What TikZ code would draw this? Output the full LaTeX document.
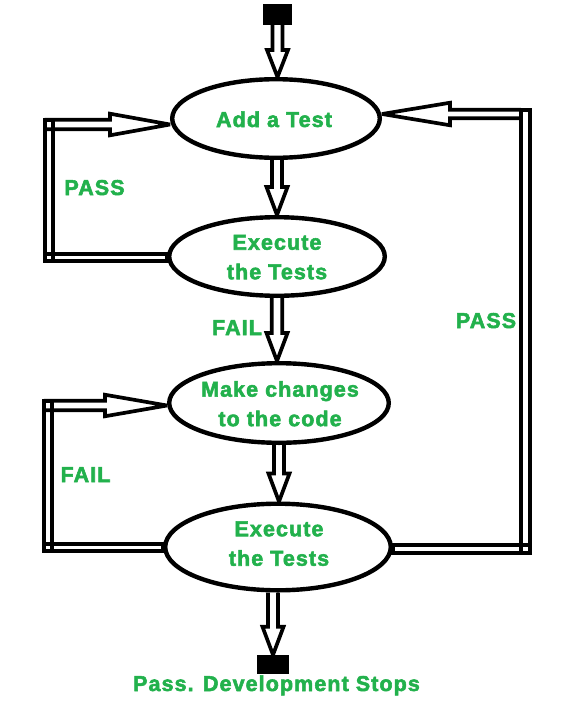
\documentclass[tikz,border=0pt]{standalone}
\usepackage{fontspec}
\setmainfont{Liberation Sans}[LetterSpace=5, BoldFeatures={FakeBold=2.5}]
\usetikzlibrary{shapes.geometric,calc}
\definecolor{pgreen}{HTML}{22B14C}
\tikzset{
  ell/.style={ellipse, draw, line width=4.4pt, inner sep=0pt},
  hollow/.style={draw, line width=3.7pt, miter limit=2},
  dbl/.style={draw, line width=3.7pt},
  lbl/.style={text=pgreen, font=\fontsize{21.5}{29.5}\selectfont\bfseries, inner sep=0pt, align=center},
  term/.style={fill=black, draw=none, inner sep=0pt, rectangle},
}
% #1 start, #2 end (tip), #3 head length, #4 shaft half width, #5 head half width
\newcommand\hdown[5]{\draw[hollow] let \p1=(#1), \p2=(#2) in
  (\x1-#4pt,\y1) -- (\x1-#4pt,\y2+#3pt) -- (\x1-#5pt,\y2+#3pt) -- (\x1,\y2)
  -- (\x1+#5pt,\y2+#3pt) -- (\x1+#4pt,\y2+#3pt) -- (\x1+#4pt,\y1);}
\newcommand\hright[5]{\draw[hollow] let \p1=(#1), \p2=(#2) in
  (\x1,\y1+#4pt) -- (\x2-#3pt,\y1+#4pt) -- (\x2-#3pt,\y1+#5pt) -- (\x2,\y1)
  -- (\x2-#3pt,\y1-#5pt) -- (\x2-#3pt,\y1-#4pt) -- (\x1,\y1-#4pt);}
\newcommand\hleft[5]{\draw[hollow] let \p1=(#1), \p2=(#2) in
  (\x1,\y1+#4pt) -- (\x2+#3pt,\y1+#4pt) -- (\x2+#3pt,\y1+#5pt) -- (\x2,\y1)
  -- (\x2+#3pt,\y1-#5pt) -- (\x2+#3pt,\y1-#4pt) -- (\x1,\y1-#4pt);}
\begin{document}
\begin{tikzpicture}[x=1pt,y=-1pt]
\useasboundingbox[fill=white] (0,0) rectangle (563,704);
% terminals
\node[term, minimum width=29pt, minimum height=21pt] (s0) at (277.5,14.5) {};
\node[term, minimum width=32pt, minimum height=19pt] (s1) at (273,664.5) {};
% ellipses
\node[ell, minimum width=207.6pt, minimum height=78.6pt] (e1) at (276,118.5) {};
\node[ell, minimum width=215.6pt, minimum height=78.6pt] (e2) at (277,256.5) {};
\node[ell, minimum width=219.6pt, minimum height=79.6pt] (e3) at (279,403) {};
\node[ell, minimum width=225.6pt, minimum height=86.6pt] (e4) at (278,547) {};
% vertical hollow arrows
\hdown{s0.south}{e1.north}{27}{5}{10.5}
\hdown{e2.north |- e1.south}{e2.north}{28}{5}{10.5}
\hdown{e2.south}{e3.north}{28}{5.2}{10.5}
\hdown{e3.south}{e4.north}{28}{5}{10.5}
\hdown{s1.north |- e4.south}{s1.north}{28}{5}{10.5}
% left PASS loop
\coordinate (pa) at (44.7,124.5);
\coordinate (pb) at (44.7,253.7);
\coordinate (pc) at (0,261.3);
\hright{pa}{e1.west}{60}{4.8}{10.8}
\draw[dbl] (44.7,119.7) rectangle (53.3,261.3);
\draw[dbl] (pb) rectangle (e2.west |- pc);
% left FAIL loop
\coordinate (fa) at (43.75,405.5);
\coordinate (fb) at (43.75,543.75);
\coordinate (fc) at (0,551.25);
\hright{fa}{e3.west}{62}{4.75}{10.75}
\draw[dbl] (43.75,400.75) rectangle (52.25,551.25);
\draw[dbl] (fb) rectangle (e4.west |- fc);
% right PASS loop
\coordinate (ra) at (520.75,114);
\coordinate (rb) at (0,544.75);
\coordinate (rc) at (530.25,553.25);
\hleft{ra}{e1.east}{68}{4.25}{11.25}
\draw[dbl] (520.75,109.75) rectangle (530.25,553.25);
\draw[dbl] (e4.east |- rb) rectangle (rc);
% texts
\node[lbl, anchor=base] (t1) at (274,127) {Add a Test};
\node[lbl] (t2) at (277,257.2) {Execute\\the Tests};
\node[lbl] (t3) at (280,403.7) {Make changes\\to the code};
\node[lbl] (t4) at (279,543.7) {Execute\\the Tests};
\node[lbl, anchor=base] (l1) at (94.5,195) {PASS};
\node[lbl, anchor=base] (l2) at (237,335) {FAIL};
\node[lbl, anchor=base] (l3) at (486,328) {PASS};
\node[lbl, anchor=base] (l4) at (85.5,482) {FAIL};
\node[lbl, anchor=base] (l5) at (276.5,691) {Pass. Development Stops};
\end{tikzpicture}
\end{document}
